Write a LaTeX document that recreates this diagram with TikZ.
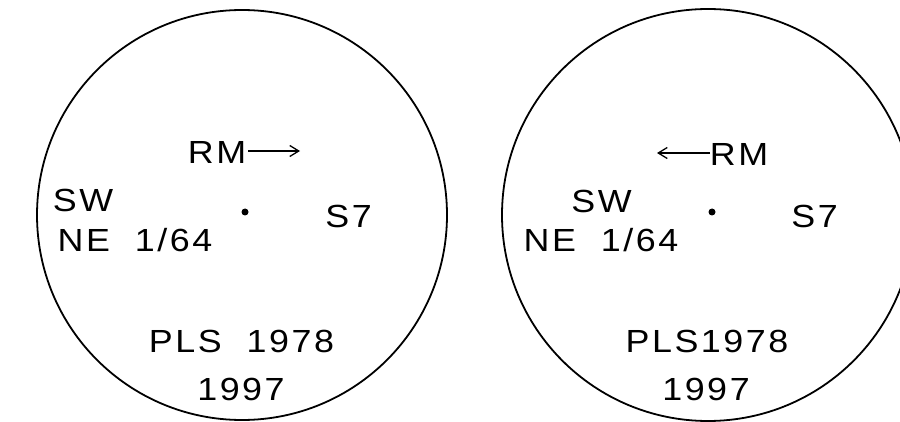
\documentclass[tikz,border=0pt]{standalone}
\usepackage{fontspec}
\setmainfont[FakeStretch=1.12,LetterSpace=8,WordSpace=2]{Liberation Sans}
\usetikzlibrary{arrows.meta}
\begin{document}
\begin{tikzpicture}[x=1pt,y=-1pt,
  lbl/.style={anchor=base,inner sep=0pt,font=\fontsize{32}{40}\selectfont},
  ring/.style={line width=1.8pt},
  rmarrow/.style={line width=1.3pt,-{Straight Barb[length=9pt,width=11pt,line width=1.3pt]}},
  spot/.style={circle,fill=black,inner sep=0pt,minimum size=7pt}]
\useasboundingbox (0,0) rectangle (900,422);
\fill[white] (0,0) rectangle (900,422);
% left circle
\draw[ring] (242,215) circle (205);
\node[lbl] (rmL) at (217,164) {RM};
\coordinate (aL1) at (248,151);
\coordinate (aL2) at (300,151);
\draw[rmarrow] (aL1) -- (aL2);
\node[lbl] (swL) at (83,212) {SW};
\node[lbl] (neL) at (135,252) {NE 1/64};
\node[spot] (dotL) at (245,212) {};
\node[lbl] (s7L) at (348.5,228) {S7};
\node[lbl] (plsL) at (241.5,352) {PLS 1978};
\node[lbl] (yrL) at (241,400) {1997};
% right circle
\draw[ring] (708,215) circle (206);
\node[lbl] (rmR) at (739,166) {RM};
\coordinate (aR1) at (710,153);
\coordinate (aR2) at (657,153);
\draw[rmarrow] (aR1) -- (aR2);
\node[lbl] (swR) at (601.5,213) {SW};
\node[lbl] (neR) at (601,252) {NE 1/64};
\node[spot] (dotR) at (712,212) {};
\node[lbl] (s7R) at (814.5,228) {S7};
\node[lbl] (plsR) at (707,352) {PLS1978};
\node[lbl] (yrR) at (706,400) {1997};
\end{tikzpicture}
\end{document}
